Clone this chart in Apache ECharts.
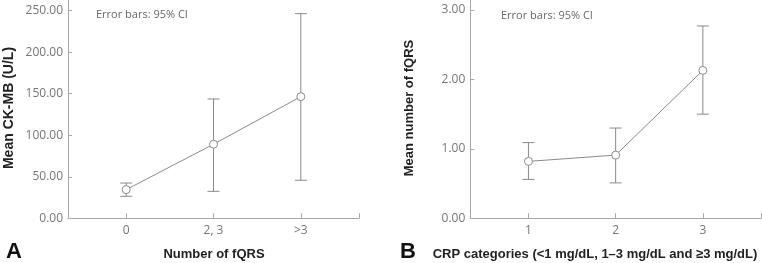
<!DOCTYPE html>
<html>
<head>
<meta charset="utf-8">
<script src="https://cdn.jsdelivr.net/npm/echarts@6/dist/echarts.min.js"></script>
<style>
  html, body { margin: 0; padding: 0; background: #fff; }
  #chart { width: 762px; height: 263px; }
</style>
</head>
<body>
<div id="chart"></div>
<script>
// panel A: CK-MB by number of fQRS
const fqrsGroups = ['0', '2, 3', '>3'];
const ckmbMean = [34.5, 89.2, 146.5];
const ckmbLower = [26.5, 32.5, 45.8];
const ckmbUpper = [42.5, 143.7, 246.5];
const ckmbTicks = [0, 50, 100, 150, 200, 250];

// panel B: fQRS by CRP category
const crpGroups = ['1', '2', '3'];
const fqrsMean = [0.82, 0.91, 2.13];
const fqrsLower = [0.56, 0.51, 1.50];
const fqrsUpper = [1.09, 1.30, 2.77];
const fqrsTicks = [0, 1, 2, 3];

const gray = '#8a8a8a';
const axisGray = '#a8a8a8';
const labelColor = '#757575';
const tickFont = 'Open Sans';

const chart = echarts.init(document.getElementById('chart'));

function errorBars(api) {
  const x = api.value(0);
  const lo = api.coord([x, api.value(1)]);
  const hi = api.coord([x, api.value(2)]);
  const w = 6;
  const style = { stroke: gray, lineWidth: 1 };
  return {
    type: 'group',
    children: [
      { type: 'line', shape: { x1: lo[0], y1: lo[1], x2: hi[0], y2: hi[1] }, style },
      { type: 'line', shape: { x1: hi[0] - w, y1: hi[1], x2: hi[0] + w, y2: hi[1] }, style },
      { type: 'line', shape: { x1: lo[0] - w, y1: lo[1], x2: lo[0] + w, y2: lo[1] }, style }
    ]
  };
}

function xAxisOf(gridIndex, labels, offset) {
  const ticks = labels.map((_, i) => i + offset);
  return {
    type: 'value',
    gridIndex,
    min: offset - 2 / 3,
    max: offset + labels.length - 1 + 2 / 3,
    splitLine: { show: false },
    axisLine: { onZero: false, lineStyle: { color: axisGray } },
    axisTick: { inside: true, length: 5, lineStyle: { color: axisGray },
      customValues: ticks.concat([offset + labels.length - 1 + 2 / 3]) },
    axisLabel: {
      customValues: ticks,
      formatter: v => labels[Math.round(v - offset)],
      color: labelColor, fontFamily: tickFont, fontSize: 12, margin: 6
    }
  };
}

function yAxisOf(gridIndex, ticks, max) {
  return {
    type: 'value',
    gridIndex,
    min: 0,
    max,
    splitLine: { show: false },
    axisLine: { show: true, onZero: false, lineStyle: { color: axisGray } },
    axisTick: { show: true, inside: true, length: 4, lineStyle: { color: axisGray }, customValues: ticks },
    axisLabel: {
      customValues: ticks,
      formatter: v => v.toFixed(2),
      color: labelColor, fontFamily: tickFont, fontSize: 12, margin: 5
    }
  };
}

const titleStyle = { fill: '#222', font: 'bold 13px "Liberation Sans"' };

chart.setOption({
  animation: false,
  grid: [
    { left: 68, right: 403, top: 0, bottom: 44.7 },
    { left: 470.3, right: 1, top: 0, bottom: 44.7 }
  ],
  xAxis: [xAxisOf(0, fqrsGroups, 0), xAxisOf(1, crpGroups, 1)],
  yAxis: [yAxisOf(0, ckmbTicks, 262.9), yAxisOf(1, fqrsTicks, 3.144)],
  series: [
    {
      type: 'custom', xAxisIndex: 0, yAxisIndex: 0, z: 1,
      renderItem: (params, api) => errorBars(api),
      data: fqrsGroups.map((_, i) => [i, ckmbLower[i], ckmbUpper[i]])
    },
    {
      type: 'line', xAxisIndex: 0, yAxisIndex: 0, z: 2,
      symbol: 'circle', symbolSize: 8,
      itemStyle: { color: '#fff', borderColor: gray, borderWidth: 1 },
      lineStyle: { color: gray, width: 1 },
      data: fqrsGroups.map((_, i) => [i, ckmbMean[i]])
    },
    {
      type: 'custom', xAxisIndex: 1, yAxisIndex: 1, z: 1,
      renderItem: (params, api) => errorBars(api),
      data: crpGroups.map((_, i) => [i + 1, fqrsLower[i], fqrsUpper[i]])
    },
    {
      type: 'line', xAxisIndex: 1, yAxisIndex: 1, z: 2,
      symbol: 'circle', symbolSize: 8,
      itemStyle: { color: '#fff', borderColor: gray, borderWidth: 1 },
      lineStyle: { color: gray, width: 1 },
      data: crpGroups.map((_, i) => [i + 1, fqrsMean[i]])
    }
  ],
  graphic: [
    { type: 'text', x: 96, y: 15, style: { text: 'Error bars: 95% CI', fill: '#666', font: '11px "Open Sans"', verticalAlign: 'middle' } },
    { type: 'text', x: 501, y: 16, style: { text: 'Error bars: 95% CI', fill: '#666', font: '11px "Open Sans"', verticalAlign: 'middle' } },
    { type: 'text', x: 9, y: 108, rotation: Math.PI / 2, style: Object.assign({ text: 'Mean CK-MB (U/L)', align: 'center', verticalAlign: 'middle' }, titleStyle, { font: 'bold 14px "Liberation Sans"' }) },
    { type: 'text', x: 409, y: 108, rotation: Math.PI / 2, style: Object.assign({ text: 'Mean number of fQRS', align: 'center', verticalAlign: 'middle' }, titleStyle) },
    { type: 'text', x: 214, y: 254, style: Object.assign({ text: 'Number of fQRS', align: 'center', verticalAlign: 'middle' }, titleStyle) },
    { type: 'text', x: 595, y: 254, style: Object.assign({ text: 'CRP categories (<1 mg/dL, 1\u20133 mg/dL and \u22653 mg/dL)', align: 'center', verticalAlign: 'middle' }, titleStyle) },
    { type: 'text', x: 14, y: 252, style: { text: 'A', fill: '#111', font: 'bold 22px "Liberation Sans"', align: 'center', verticalAlign: 'middle' } },
    { type: 'text', x: 408, y: 252, style: { text: 'B', fill: '#111', font: 'bold 22px "Liberation Sans"', align: 'center', verticalAlign: 'middle' } }
  ]
});
</script>
</body>
</html>
